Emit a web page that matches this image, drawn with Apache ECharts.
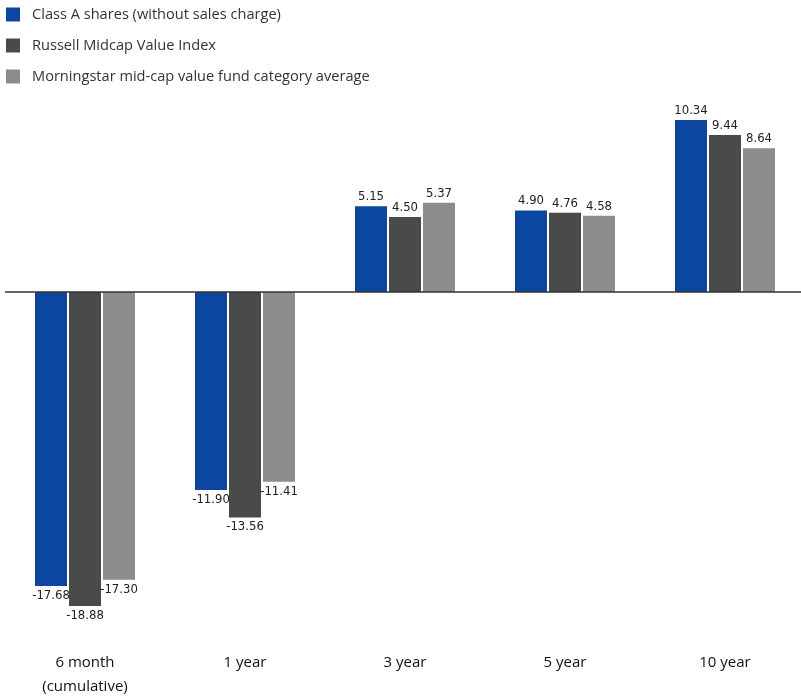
<!DOCTYPE html>
<html>
<head>
<meta charset="utf-8">
<script src="https://cdn.jsdelivr.net/npm/echarts@6/dist/echarts.min.js"></script>
<style>
  html, body { margin: 0; padding: 0; background: #fff; }
  #chart { width: 801px; height: 698px; }
</style>
</head>
<body>
<div id="chart"></div>
<script>
const categories = ['6 month\n(cumulative)', '1 year', '3 year', '5 year', '10 year'];
const seriesNames = [
  'Class A shares (without sales charge)',
  'Russell Midcap Value Index',
  'Morningstar mid-cap value fund category average'
];
const classA = [-17.68, -11.90, 5.15, 4.90, 10.34];
const russell = [-18.88, -13.56, 4.50, 4.76, 9.44];
const morningstar = [-17.30, -11.41, 5.37, 4.58, 8.64];
const colors = ['#0b47a0', '#4a4a4a', '#8c8c8c'];

const chart = echarts.init(document.getElementById('chart'));

function makeSeries(name, data, color, withZeroLine) {
  const s = {
    name: name,
    type: 'bar',
    barWidth: 32,
    barGap: '6.25%',
    itemStyle: { color: color },
    label: {
      show: true,
      distance: 3,
      fontFamily: "'Liberation Sans Narrow', 'DejaVu Sans Condensed', sans-serif",
      fontSize: 13,
      color: '#222',
      formatter: p => p.value.toFixed(2)
    },
    // negative values get their label under the bar
    data: data.map(v => ({
      value: v,
      label: { position: v < 0 ? 'bottom' : 'top' }
    }))
  };
  if (withZeroLine) {
    s.markLine = {
      silent: true,
      symbol: 'none',
      label: { show: false },
      lineStyle: { color: '#333', width: 1.5, type: 'solid' },
      data: [{ yAxis: 0 }]
    };
  }
  return s;
}

chart.setOption({
  animation: false,
  color: colors,
  legend: {
    orient: 'vertical',
    left: 6,
    top: 7,
    padding: 0,
    itemWidth: 14,
    itemHeight: 14,
    itemGap: 16,
    icon: 'rect',
    data: seriesNames,
    textStyle: {
      fontFamily: 'Open Sans',
      fontSize: 14.6,
      color: '#333',
      padding: [0, 0, 0, 7]
    }
  },
  grid: { left: 5, right: -4, top: 109, bottom: 90, outerBoundsMode: 'none', containLabel: false },
  xAxis: {
    type: 'category',
    data: categories,
    axisLine: { show: false },
    axisTick: { show: false },
    axisLabel: {
      margin: 43,
      fontFamily: 'Open Sans',
      fontSize: 15,
      lineHeight: 24,
      color: '#111'
    }
  },
  yAxis: {
    type: 'value',
    min: -19,
    max: 11,
    show: false,
    splitLine: { show: false }
  },
  series: [
    makeSeries(seriesNames[0], classA, colors[0], true),
    makeSeries(seriesNames[1], russell, colors[1], false),
    makeSeries(seriesNames[2], morningstar, colors[2], false)
  ]
});
</script>
</body>
</html>
